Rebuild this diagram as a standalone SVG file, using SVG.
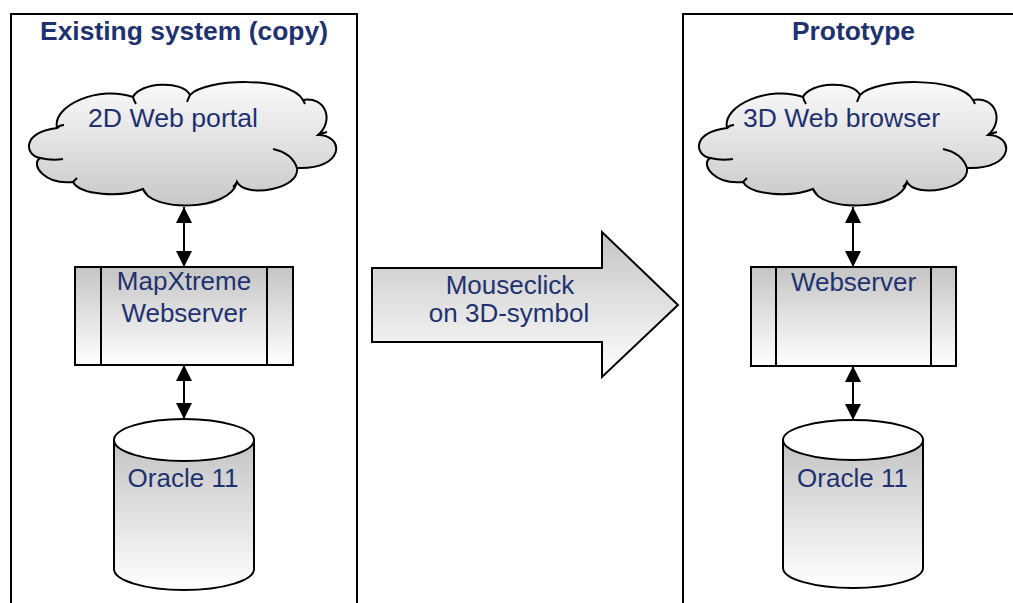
<svg xmlns="http://www.w3.org/2000/svg" xmlns:xlink="http://www.w3.org/1999/xlink" width="1013" height="603" viewBox="0 0 1013 603">
  <style>
    .panel { fill: none; stroke: #000; stroke-width: 2; }
    .title { font-family: "Liberation Sans", Arial, sans-serif; font-weight: bold; font-size: 26px; fill: #1F3270; text-anchor: middle; }
    .lbl { font-family: "Liberation Sans", Arial, sans-serif; font-size: 26px; fill: #1F3270; text-anchor: middle; }
    .shape { stroke: #000; stroke-width: 2; }
    .crease { fill: none; stroke: #000; stroke-width: 2; }
    .conn { stroke: #000; stroke-width: 2; fill: none; marker-start: url(#ah); marker-end: url(#ah); }
  </style>
  <defs>
    <linearGradient id="gDown" x1="0" y1="0" x2="0" y2="1">
      <stop offset="0" stop-color="#C4C4C4"/>
      <stop offset="1" stop-color="#FFFFFF"/>
    </linearGradient>
    <linearGradient id="gCloud" x1="0" y1="0" x2="0" y2="1">
      <stop offset="0" stop-color="#FAFAFA"/>
      <stop offset="1" stop-color="#C8C8C8"/>
    </linearGradient>
    <marker id="ah" viewBox="0 0 16 16" refX="16" refY="8" markerWidth="16" markerHeight="16" markerUnits="userSpaceOnUse" orient="auto-start-reverse">
      <path d="M0,0 L16,8 L0,16 Z" fill="#000"/>
    </marker>
    <g id="cloud">
      <path class="shape" fill="url(#gCloud)" d="M40,158 C24,155 22,132 57,128 C52,105 100,85 133,97 C140,82 183,80 190,95 C205,78 290,76 303,100 C325,96 335,120 318,135 C345,135 345,170 297,168 C300,190 245,198 237,182 C230,212 150,212 143,189 C120,198 80,195 73,182 C45,185 30,165 40,158 Z"/>
      <path class="crease" d="M57,128 Q60,125 64,125 M40,158 Q52,161 63,159 M133,97 Q134,101 136,104 M190,95 Q188,99 187,102 M303,100 Q304,102 305,104 M318,135 Q322,133 327,132 M273,149 Q292,153 297,168 M237,182 Q235,185 233,187 M143,189 Q145,192 147,195 M73,182 Q75,180 77,178"/>
    </g>
  </defs>

  <rect width="1013" height="603" fill="#fff"/>

  <g id="panel-existing">
    <rect class="panel" x="11" y="14" width="346" height="600"/>
    <text class="title" x="184" y="40" textLength="288" lengthAdjust="spacingAndGlyphs">Existing system (copy)</text>
  </g>

  <g id="panel-prototype">
    <rect class="panel" x="683" y="14" width="340" height="600"/>
    <text class="title" x="853.5" y="40" textLength="123" lengthAdjust="spacingAndGlyphs">Prototype</text>
  </g>

  <g id="portal2d">
    <use xlink:href="#cloud"/>
    <text class="lbl" x="173" y="127" textLength="170" lengthAdjust="spacingAndGlyphs">2D Web portal</text>
  </g>

  <g id="mapxtreme">
    <rect class="shape" fill="url(#gDown)" x="75" y="267" width="218" height="98"/>
    <line class="shape" x1="101" y1="267" x2="101" y2="365"/>
    <line class="shape" x1="267" y1="267" x2="267" y2="365"/>
    <text class="lbl" x="184" y="290">MapXtreme</text>
    <text class="lbl" x="184" y="322">Webserver</text>
  </g>

  <g id="oracle-left">
    <path class="shape" fill="url(#gDown)" d="M114,440 L114,569 A70,21 0 0 0 254,569 L254,440 Z"/>
    <ellipse class="shape" fill="#fff" cx="184" cy="440" rx="70" ry="21"/>
    <text class="lbl" x="183" y="487">Oracle 11</text>
  </g>

  <g id="mouseclick">
    <polygon class="shape" stroke-width="1.5" fill="url(#gDown)" points="372,268 602,268 602,232 678,305 602,377 602,342 372,342"/>
    <text class="lbl" x="510" y="294">Mouseclick</text>
    <text class="lbl" x="509" y="322">on 3D-symbol</text>
  </g>

  <g id="browser3d">
    <use xlink:href="#cloud" transform="translate(670,0)"/>
    <text class="lbl" x="841.5" y="127" textLength="197" lengthAdjust="spacingAndGlyphs">3D Web browser</text>
  </g>

  <g id="webserver">
    <rect class="shape" fill="url(#gDown)" x="751" y="267" width="205" height="99"/>
    <line class="shape" x1="776" y1="267" x2="776" y2="366"/>
    <line class="shape" x1="931" y1="267" x2="931" y2="366"/>
    <text class="lbl" x="853.5" y="291">Webserver</text>
  </g>

  <g id="oracle-right">
    <path class="shape" fill="url(#gDown)" d="M783,440 L783,568 A70,20 0 0 0 923,568 L923,440 Z"/>
    <ellipse class="shape" fill="#fff" cx="853" cy="440" rx="70" ry="20"/>
    <text class="lbl" x="852.5" y="487">Oracle 11</text>
  </g>

  <g id="connectors">
    <line class="conn" x1="184" y1="207" x2="184" y2="267"/>
    <line class="conn" x1="184" y1="365" x2="184" y2="419"/>
    <line class="conn" x1="853" y1="207" x2="853" y2="267"/>
    <line class="conn" x1="853" y1="366" x2="853" y2="420"/>
  </g>
</svg>
